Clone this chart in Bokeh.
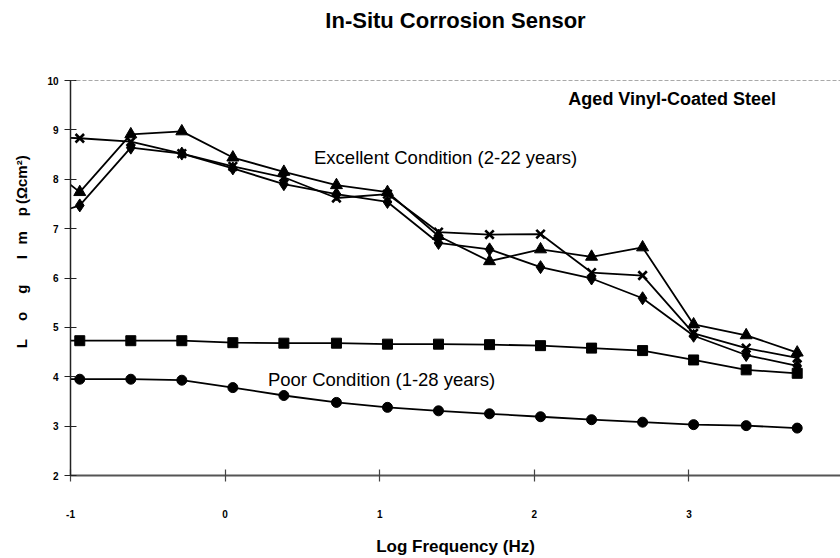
from bokeh.plotting import figure
from bokeh.models import FixedTicker, Span, Label, Title
from bokeh.embed import file_html
from bokeh.resources import INLINE

# ---- data ----
log_freq = [-1.27, -0.94, -0.61, -0.28, 0.05, 0.38, 0.72, 1.05, 1.38, 1.71, 2.04, 2.37, 2.70, 3.03, 3.37, 3.70]
exc_triangle = [8.55, 7.74, 8.91, 8.97, 8.44, 8.15, 7.88, 7.74, 6.85, 6.34, 6.58, 6.43, 6.62, 5.06, 4.84, 4.49]
exc_diamond = [7.13, 7.47, 8.64, 8.52, 8.22, 7.90, 7.70, 7.54, 6.71, 6.58, 6.22, 5.99, 5.59, 4.83, 4.44, 4.22]
exc_cross = [8.88, 8.83, 8.76, 8.52, 8.26, 8.04, 7.62, 7.70, 6.93, 6.88, 6.89, 6.11, 6.05, 4.88, 4.58, 4.38]
poor_square = [4.74, 4.73, 4.73, 4.73, 4.69, 4.68, 4.68, 4.66, 4.66, 4.65, 4.63, 4.58, 4.53, 4.34, 4.14, 4.07]
poor_circle = [3.95, 3.95, 3.95, 3.93, 3.78, 3.62, 3.48, 3.38, 3.31, 3.25, 3.19, 3.13, 3.08, 3.03, 3.01, 2.96]

x_ticks = [-1, 0, 1, 2, 3, 4]
x_tick_labels = {-1: "-1", 0: "0", 1: "1", 2: "2", 3: "3", 4: "4"}
y_ticks = [2, 3, 4, 5, 6, 7, 8, 9, 10]

title_text = "In-Situ Corrosion Sensor"
x_label = "Log Frequency (Hz)"
y_label = "\u2003\u2003\u2003\u2002L\u2003\u2009o\u2003\u2009g\u2003\u2002\u2009I\u2002\u2009m\u2003p\u2009(\u03a9cm\u00b2)"
note_steel = "Aged Vinyl-Coated Steel"
note_excellent = "Excellent Condition (2-22 years)"
note_poor = "Poor Condition (1-28 years)"

FONT = "Liberation Sans"

p = figure(width=840, height=558, x_range=(-1, 3.98), y_range=(2, 10),
           output_backend="svg", toolbar_location=None, title=None,
           min_border_left=70, min_border_right=0, min_border_top=80, min_border_bottom=82)
p.background_fill_color = "white"
p.border_fill_color = "white"
p.outline_line_color = None
p.xgrid.visible = False
p.ygrid.visible = False

series = [
    (exc_triangle, "triangle", 12, 1.0),
    (exc_diamond, "diamond", 13, 1.0),
    (exc_cross, "x", 12, 2.6),
    (poor_square, "square", 10, 1.0),
    (poor_circle, "circle", 10, 1.0),
]
for vals, marker, size, lw in series:
    p.line(log_freq, vals, line_color="black", line_width=1.8)
    p.scatter(log_freq, vals, marker=marker, size=size, fill_color="black",
              line_color="black", line_width=lw)

# dashed top border at y = 10
p.add_layout(Span(location=10, dimension="width", line_color="#555555",
                  line_width=1, line_dash="4 2"))

for ax in (p.xaxis[0], p.yaxis[0]):
    ax.major_tick_line_width = 1.2
    ax.major_tick_in = 6
    ax.major_tick_out = 6
    ax.minor_tick_in = 0
    ax.minor_tick_out = 0
    ax.major_label_text_font = FONT
    ax.major_label_text_font_style = "bold"
    ax.major_label_text_font_size = "10px"
    ax.major_label_text_color = "black"
    ax.axis_label_text_font = FONT
    ax.axis_label_text_font_style = "bold"
    ax.axis_label_text_color = "black"

p.yaxis.axis_line_color = "#222222"
p.yaxis.axis_line_width = 1.5
p.yaxis.major_tick_line_color = "#222222"
p.xaxis.axis_line_color = "#555555"
p.xaxis.axis_line_width = 2
p.xaxis.major_tick_line_color = "#444444"

p.xaxis.ticker = FixedTicker(ticks=x_ticks)
p.xaxis.major_label_overrides = x_tick_labels
p.yaxis.ticker = FixedTicker(ticks=y_ticks)
p.xaxis.major_label_standoff = 28
p.yaxis.major_label_standoff = 6
p.xaxis.axis_label = x_label
p.xaxis.axis_label_text_font_size = "17px"
p.xaxis.axis_label_standoff = 16
p.yaxis.axis_label = y_label
p.yaxis.axis_label_text_font_size = "15px"
p.yaxis.axis_label_standoff = 14

# title (spacer first so the real title sits further up)
p.add_layout(Title(text=" ", text_font_size="28px"), "above")
p.add_layout(Title(text=title_text, align="center", text_font=FONT,
                   text_font_style="bold", text_font_size="22px",
                   text_color="black"), "above")

p.add_layout(Label(x=2.22, y=9.62, text=note_steel, text_font=FONT,
                   text_font_style="bold", text_font_size="18px",
                   text_baseline="middle", text_color="black"))
p.add_layout(Label(x=0.575, y=8.44, text=note_excellent, text_font=FONT,
                   text_font_size="18.5px", text_baseline="middle", text_color="black"))
p.add_layout(Label(x=0.277, y=3.94, text=note_poor, text_font=FONT,
                   text_font_size="18.5px", text_baseline="middle", text_color="black"))

open("out.html", "w").write(file_html(p, INLINE))
